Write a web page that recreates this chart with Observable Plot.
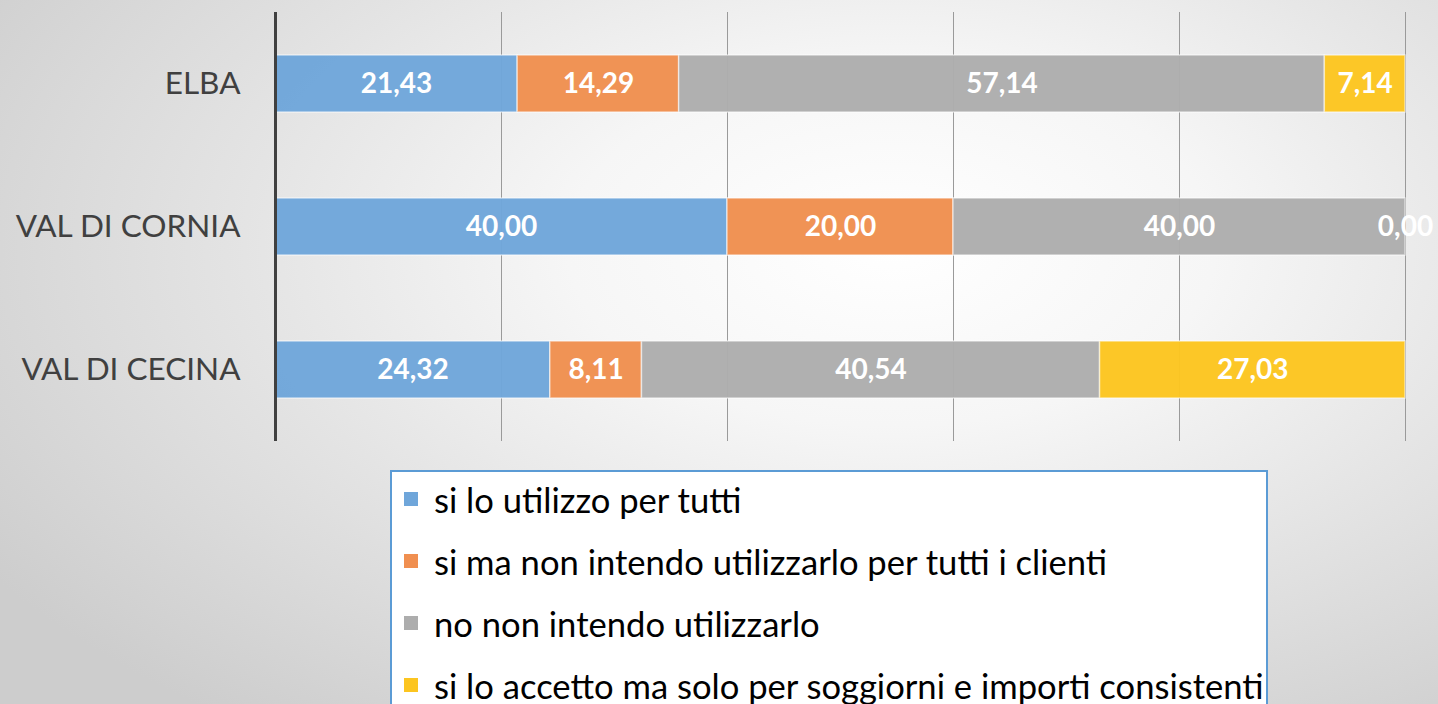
<!DOCTYPE html>
<html>
<head>
<meta charset="utf-8">
<script src="https://cdn.jsdelivr.net/npm/d3@7"></script>
<script src="https://cdn.jsdelivr.net/npm/@observablehq/plot@0.6"></script>
<style>
  html, body { margin: 0; padding: 0; width: 1438px; height: 704px; overflow: hidden; }
  body {
    background: radial-gradient(ellipse 75% 85% at 62% 35%, #ffffff 0%, #f6f6f6 30%, #e4e4e4 60%, #cdcdcd 100%);
    font-family: Lato, "Open Sans", sans-serif;
    position: relative;
  }
  #chart { position: absolute; left: 0; top: 0; }
  #legend {
    position: absolute; left: 390px; top: 470px; width: 874px; height: 260px;
    border: 2px solid #5b9bd5; background: #ffffff; box-sizing: content-box;
  }
  .item { position: absolute; left: 12px; height: 40px; display: flex; align-items: center; font-size: 34.6px; color: #000; white-space: nowrap; }
  .sw { width: 14px; height: 14px; margin-right: 16px; }
</style>
</head>
<body>
<div id="chart"></div>
<div id="legend"></div>
<script>
const categories = ["ELBA", "VAL DI CORNIA", "VAL DI CECINA"];
const seriesNames = [
  "si lo utilizzo per tutti",
  "si ma non intendo utilizzarlo per tutti i clienti",
  "no non intendo utilizzarlo",
  "si lo accetto ma solo per soggiorni e importi consistenti"
];
const seriesColors = ["#6fa6da", "#f08f50", "#adadad", "#fcc520"];
const valuesUtilizzo = [21.43, 40.00, 24.32];
const valuesNonTutti = [14.29, 20.00, 8.11];
const valuesNo = [57.14, 40.00, 40.54];
const valuesSoggiorni = [7.14, 0.00, 27.03];
const xTicks = [0, 20, 40, 60, 80, 100];

const seriesValues = [valuesUtilizzo, valuesNonTutti, valuesNo, valuesSoggiorni];
const data = [];
seriesNames.forEach((s, si) => {
  categories.forEach((c, ci) => {
    data.push({cat: c, series: s, value: seriesValues[si][ci]});
  });
});
const fmt = v => v.toFixed(2).replace(".", ",");

const chart = Plot.plot({
  width: 1438,
  height: 460,
  marginLeft: 275,
  marginRight: 33,
  marginTop: 12,
  marginBottom: 19,
  style: {background: "transparent", overflow: "visible"},
  x: {domain: [0, 100], axis: null},
  y: {domain: categories, paddingInner: 0.6, paddingOuter: 0.3, axis: null},
  color: {domain: seriesNames, range: seriesColors},
  marks: [
    Plot.gridX(xTicks.slice(1), {stroke: "#9a9a9a", strokeOpacity: 1, strokeWidth: 1}),
    Plot.barX(data, Plot.stackX({
      x: "value", y: "cat", fill: "series", z: "series",
      fillOpacity: 0.97, stroke: "#ffffff", strokeOpacity: 0.55, strokeWidth: 1.5
    })),
    Plot.text(data, Plot.stackX({
      x: "value", y: "cat", z: "series", text: d => fmt(d.value),
      fill: "#ffffff", fontSize: 28, fontWeight: "bold",
      fontFamily: "Lato, 'Open Sans', sans-serif"
    })),
    Plot.ruleX([0], {stroke: "#404040", strokeWidth: 3}),
    Plot.axisY({
      tickSize: 0, tickPadding: 35, fontSize: 31.5, label: null,
      fill: "#404040", fontFamily: "Lato, 'Open Sans', sans-serif"
    })
  ]
});
document.getElementById("chart").appendChild(chart);

const legend = document.getElementById("legend");
seriesNames.forEach((s, i) => {
  const it = document.createElement("div");
  it.className = "item";
  it.style.top = (7 + i * 62) + "px";
  const sw = document.createElement("span");
  sw.className = "sw";
  sw.style.background = seriesColors[i];
  it.appendChild(sw);
  const t = document.createElement("span");
  t.textContent = s;
  it.appendChild(t);
  legend.appendChild(it);
});
</script>
</body>
</html>
